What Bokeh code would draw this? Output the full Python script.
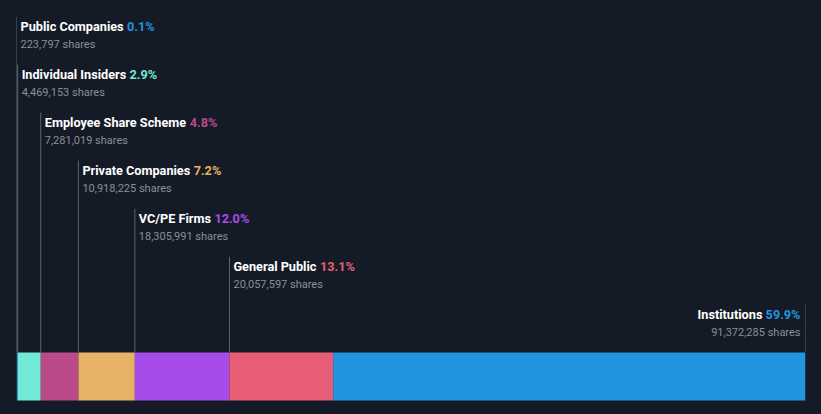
import struct, glob, os
from bokeh.plotting import figure
from bokeh.models import Range1d
from bokeh.embed import file_html
from bokeh.resources import INLINE
from bokeh.core.properties import value

# ---- data ----
categories = ["Public Companies", "Individual Insiders", "Employee Share Scheme",
              "Private Companies", "VC/PE Firms", "General Public", "Institutions"]
shares = [223797, 4469153, 7281019, 10918225, 18305991, 20057597, 91372285]
percents = ["0.1%", "2.9%", "4.8%", "7.2%", "12.0%", "13.1%", "59.9%"]
colors = ["#2394df", "#72e8d6", "#bb4a88", "#e6b265", "#a64ceb", "#e85d76", "#2394df"]

BG = "#151b26"
W, H = 821, 414
PAD = 16
NAME_SIZE = 12.7
SHARE_SIZE = 11

# ---- text width measurement (Roboto Bold) ----
FALLBACK = {' ': 507, '.': 527, '%': 1465, '/': 825, 'a': 1089, 'b': 1120, 'c': 1046,
            'd': 1126, 'e': 1058, 'f': 709, 'g': 1123, 'h': 1101, 'i': 486, 'l': 486,
            'm': 1751, 'n': 1103, 'o': 1141, 'p': 1120, 'r': 692, 's': 1034, 't': 669,
            'u': 1102, 'v': 968, 'y': 948, 'C': 1300, 'E': 1162, 'F': 1134, 'G': 1363,
            'I': 557, 'P': 1292, 'S': 1216, 'V': 1304}
for d in "0123456789":
    FALLBACK[d] = 1150


def load_font_widths():
    cands = []
    for pat in ["/usr/share/fonts/**/Roboto-Bold.ttf", "/usr/share/fonts/**/Roboto*Bold*.ttf",
                "/usr/local/share/fonts/**/Roboto-Bold.ttf", os.path.expanduser("~/.fonts/**/Roboto-Bold.ttf")]:
        cands += [c for c in glob.glob(pat, recursive=True) if "Italic" not in c and "Condensed" not in c]
    for path in cands:
        try:
            data = open(path, 'rb').read()
            off = 0
            numTables = struct.unpack('>H', data[off + 4:off + 6])[0]
            tables = {}
            for i in range(numTables):
                rec = off + 12 + 16 * i
                tag = data[rec:rec + 4].decode('latin1')
                _, toff, tlen = struct.unpack('>III', data[rec + 4:rec + 16])
                tables[tag] = toff
            upem = struct.unpack('>H', data[tables['head'] + 18:tables['head'] + 20])[0]
            nhm = struct.unpack('>H', data[tables['hhea'] + 34:tables['hhea'] + 36])[0]
            hm = tables['hmtx']
            adv = [struct.unpack('>H', data[hm + 4 * i:hm + 4 * i + 2])[0] for i in range(nhm)]
            cm = tables['cmap']
            nsub = struct.unpack('>H', data[cm + 2:cm + 4])[0]
            chars = set("".join(categories) + "".join(percents) + " ")
            mapping = {}
            for i in range(nsub):
                pid, eid, soff = struct.unpack('>HHI', data[cm + 4 + 8 * i:cm + 12 + 8 * i])
                so = cm + soff
                fmt = struct.unpack('>H', data[so:so + 2])[0]
                if fmt != 4:
                    continue
                segx2 = struct.unpack('>H', data[so + 6:so + 8])[0]
                seg = segx2 // 2
                ends = struct.unpack('>%dH' % seg, data[so + 14:so + 14 + segx2])
                starts = struct.unpack('>%dH' % seg, data[so + 16 + segx2:so + 16 + 2 * segx2])
                deltas = struct.unpack('>%dh' % seg, data[so + 16 + 2 * segx2:so + 16 + 3 * segx2])
                rp = so + 16 + 3 * segx2
                roffs = struct.unpack('>%dH' % seg, data[rp:rp + segx2])
                for ch in chars:
                    c = ord(ch)
                    for k in range(seg):
                        if ends[k] >= c:
                            if starts[k] <= c:
                                if roffs[k] == 0:
                                    g = (c + deltas[k]) & 0xFFFF
                                else:
                                    a = rp + 2 * k + roffs[k] + 2 * (c - starts[k])
                                    g = struct.unpack('>H', data[a:a + 2])[0]
                                    if g:
                                        g = (g + deltas[k]) & 0xFFFF
                                mapping[ch] = adv[min(g, nhm - 1)] / upem
                            break
                break
            if len(mapping) >= len(chars):
                return mapping
        except Exception:
            pass
    return {k: v * 1.015 / 2048 for k, v in FALLBACK.items()}


WID = load_font_widths()


def text_width(s, size):
    return sum(WID.get(ch, 0.55) for ch in s) * size


# ---- derived ----
total = float(sum(shares))
lefts, rights = [], []
acc = 0.0
for s in shares:
    lefts.append(acc)
    acc += s
    rights.append(acc)

n = len(categories)
ROW_STEP = 48.05
BAR_TOP, BAR_BOT = 352, 400
title_y = [25.5 + ROW_STEP * i for i in range(n)]
share_y = [43.7 + ROW_STEP * i for i in range(n)]
line_tops = [16.0 + ROW_STEP * i for i in range(n)]
line_x = [lefts[i] for i in range(n - 1)] + [total]
share_labels = ["{:,} shares".format(s) for s in shares]

p = figure(width=W, height=H, output_backend="svg", toolbar_location=None,
           x_range=Range1d(0, total), y_range=Range1d(H, 0),
           min_border_left=PAD, min_border_right=PAD, min_border_top=0, min_border_bottom=0,
           background_fill_color=BG, border_fill_color=BG)
p.axis.visible = False
p.grid.visible = False
p.outline_line_color = None
p.styles = {"background-color": BG}

# bar segments
p.quad(left=lefts, right=rights, top=[BAR_TOP] * n, bottom=[BAR_BOT] * n,
       fill_color=colors, line_color=None)

# leader lines
p.segment(x0=line_x, x1=line_x, y0=line_tops, y1=[BAR_TOP] * n,
          line_color="#5d626c", line_width=1)

# labels
common = dict(text_font=value("Roboto"), text_baseline="alphabetic")
for i in range(n):
    name = categories[i]
    pct = percents[i]
    if i < n - 1:
        off = 4
        p.text(x=[line_x[i]], y=[title_y[i]], text=[name], x_offset=off,
               text_font_style="bold", text_font_size="%gpx" % NAME_SIZE,
               text_color="#ffffff", text_align="left", **common)
        p.text(x=[line_x[i]], y=[title_y[i]], text=[pct],
               x_offset=off + text_width(name + " ", NAME_SIZE),
               text_font_style="bold", text_font_size="%gpx" % NAME_SIZE,
               text_color=colors[i], text_align="left", **common)
        p.text(x=[line_x[i]], y=[share_y[i]], text=[share_labels[i]], x_offset=off,
               text_font_size="%gpx" % SHARE_SIZE,
               text_color="#8a8e96", text_align="left", **common)
    else:
        off = -5
        p.text(x=[line_x[i]], y=[title_y[i]], text=[pct], x_offset=off,
               text_font_style="bold", text_font_size="%gpx" % NAME_SIZE,
               text_color=colors[i], text_align="right", **common)
        p.text(x=[line_x[i]], y=[title_y[i]], text=[name],
               x_offset=off - text_width(" " + pct, NAME_SIZE),
               text_font_style="bold", text_font_size="%gpx" % NAME_SIZE,
               text_color="#ffffff", text_align="right", **common)
        p.text(x=[line_x[i]], y=[share_y[i]], text=[share_labels[i]], x_offset=off,
               text_font_size="%gpx" % SHARE_SIZE,
               text_color="#8a8e96", text_align="right", **common)

html = file_html(p, INLINE)
html = html.replace("<body>", '<body style="margin:0;background-color:%s;">' % BG, 1)
html = html.replace("</head>", "<style>html,body{margin:0;background-color:%s;}</style></head>" % BG, 1)
open("out.html", "w").write(html)
